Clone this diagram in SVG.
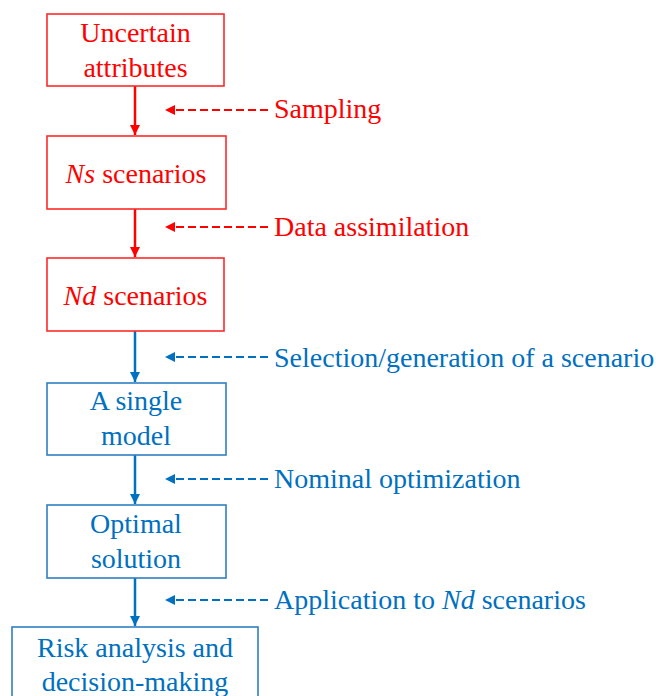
<svg xmlns="http://www.w3.org/2000/svg" width="656" height="696" viewBox="0 0 656 696">
  <style>
    text { font-family: "Liberation Serif", "Times New Roman", serif; font-size: 28px; }
    .red { fill: #ff0000; }
    .blue { fill: #0070c0; }
    .box-red { fill: #ffffff; stroke: #ff2a2a; stroke-width: 1.6; }
    .box-blue { fill: #ffffff; stroke: #2f7fc4; stroke-width: 1.6; }
    .flow-red { stroke: #ff0000; stroke-width: 2.5; fill: none; }
    .flow-blue { stroke: #0070c0; stroke-width: 2.5; fill: none; }
    .note-red { stroke: #ff0000; stroke-width: 2.2; stroke-dasharray: 8 4; fill: none; }
    .note-blue { stroke: #0070c0; stroke-width: 2.2; stroke-dasharray: 8 4; fill: none; }
    .c { text-anchor: middle; }
  </style>
  <defs>
    <marker id="headRed" viewBox="0 0 10 10" refX="10" refY="5" markerWidth="4" markerHeight="4" orient="auto" markerUnits="strokeWidth">
      <path d="M0,0 L10,5 L0,10 z" fill="#ff0000"/>
    </marker>
    <marker id="headBlue" viewBox="0 0 10 10" refX="10" refY="5" markerWidth="4" markerHeight="4" orient="auto" markerUnits="strokeWidth">
      <path d="M0,0 L10,5 L0,10 z" fill="#0070c0"/>
    </marker>
  </defs>

  <!-- flow connectors and annotation arrows -->
  <g id="connectors">
    <line class="flow-red" x1="135" y1="86" x2="135" y2="135" marker-end="url(#headRed)"/>
    <line class="flow-red" x1="135" y1="209" x2="135" y2="257" marker-end="url(#headRed)"/>
    <line class="flow-blue" x1="135" y1="331" x2="135" y2="382" marker-end="url(#headBlue)"/>
    <line class="flow-blue" x1="135" y1="455" x2="135" y2="504" marker-end="url(#headBlue)"/>
    <line class="flow-blue" x1="135" y1="578" x2="135" y2="626" marker-end="url(#headBlue)"/>

    <line class="note-red" x1="268" y1="110" x2="173" y2="110"/>
    <path d="M165,110 L175,105 L175,115 z" fill="#ff0000"/>
    <line class="note-red" x1="268" y1="227" x2="173" y2="227"/>
    <path d="M165,227 L175,222 L175,232 z" fill="#ff0000"/>
    <line class="note-blue" x1="268" y1="357" x2="173" y2="357"/>
    <path d="M165,357 L175,352 L175,362 z" fill="#0070c0"/>
    <line class="note-blue" x1="268" y1="479" x2="173" y2="479"/>
    <path d="M165,479 L175,474 L175,484 z" fill="#0070c0"/>
    <line class="note-blue" x1="268" y1="600" x2="173" y2="600"/>
    <path d="M165,600 L175,595 L175,605 z" fill="#0070c0"/>
  </g>

  <g id="uncertain-attributes">
    <rect class="box-red" x="47" y="14" width="177" height="72"/>
    <text class="red c" x="135.5" y="42">Uncertain</text>
    <text class="red c" x="135.5" y="77">attributes</text>
  </g>

  <g id="ns-scenarios">
    <rect class="box-red" x="47" y="136" width="179" height="73"/>
    <text class="red c" x="136" y="183"><tspan font-style="italic">Ns</tspan> scenarios</text>
  </g>

  <g id="nd-scenarios">
    <rect class="box-red" x="47" y="258" width="177" height="73"/>
    <text class="red c" x="135.5" y="305"><tspan font-style="italic">Nd</tspan> scenarios</text>
  </g>

  <g id="single-model">
    <rect class="box-blue" x="47" y="383" width="179" height="72"/>
    <text class="blue c" x="136" y="410">A single</text>
    <text class="blue c" x="136" y="445">model</text>
  </g>

  <g id="optimal-solution">
    <rect class="box-blue" x="47" y="505" width="179" height="73"/>
    <text class="blue c" x="136" y="533">Optimal</text>
    <text class="blue c" x="136" y="568">solution</text>
  </g>

  <g id="risk-analysis">
    <rect class="box-blue" x="12" y="627" width="246" height="90"/>
    <text class="blue c" x="135" y="657">Risk analysis and</text>
    <text class="blue c" x="135" y="691">decision-making</text>
  </g>

  <g id="labels">
    <text class="red" x="274" y="118">Sampling</text>
    <text class="red" x="274" y="236">Data assimilation</text>
    <text class="blue" x="274" y="367">Selection/generation of a scenario</text>
    <text class="blue" x="274" y="488">Nominal optimization</text>
    <text class="blue" x="274" y="609">Application to <tspan font-style="italic">Nd</tspan> scenarios</text>
  </g>
</svg>
